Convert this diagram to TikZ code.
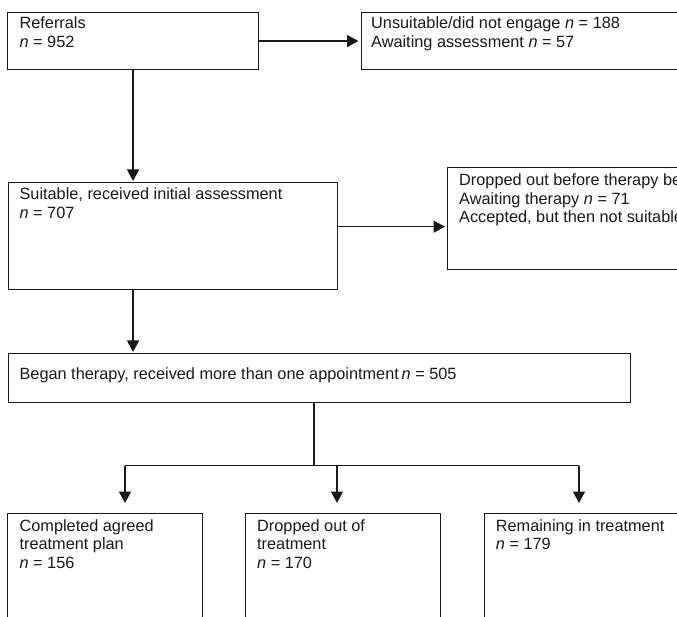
\documentclass[tikz,border=0pt]{standalone}
\usepackage{fontspec}
\setmainfont{Liberation Sans}
\usetikzlibrary{arrows.meta}
\begin{document}
\begin{tikzpicture}[x=1pt,y=-1pt,
  boxshape/.style={draw=black!90,line width=1.1pt,inner sep=0pt,anchor=north west},
  label/.style={anchor=north west,inner sep=0pt,align=left,text=black!90,font=\fontsize{16.3}{18.6}\selectfont},
  conn/.style={draw=black!90,line width=1.5pt},
  arr/.style={conn,-{Triangle[length=11.5pt,width=12pt]}}]
\useasboundingbox (0,0) rectangle (677,617);
\clip (0,0) rectangle (677,617);
% boxes
\node[boxshape,minimum width=251pt,minimum height=57pt] (b1) at (7,12) {};
\node[label] (t1) at (19.4,16.8) {Referrals\\\textit{n} = 952};
\node[boxshape,minimum width=340pt,minimum height=57pt] (b2) at (360.5,12) {};
\node[label] (t2) at (371,16.8) {Unsuitable/did not engage \textit{n} = 188\\Awaiting assessment \textit{n} = 57};
\node[boxshape,minimum width=329pt,minimum height=107pt] (b3) at (8,182) {};
\node[label] (t3) at (19.4,187.5) {Suitable, received initial assessment\\\textit{n} = 707};
\node[boxshape,minimum width=253pt,minimum height=102pt] (b4) at (447,167) {};
\node[label] (t4) at (459,173.5) {Dropped out before therapy began\\Awaiting therapy \textit{n} = 71\\Accepted, but then not suitable};
\node[boxshape,minimum width=622pt,minimum height=49pt] (b5) at (8,353) {};
\node[label] (t5) at (19.4,367.5) {Began therapy, received more than one appointment\,\textit{n} = 505};
\node[boxshape,minimum width=195pt,minimum height=130pt] (c1) at (7.3,513) {};
\node[label] (u1) at (19.4,519) {Completed agreed\\treatment plan\\\textit{n} = 156};
\node[boxshape,minimum width=195pt,minimum height=130pt] (c2) at (245,513) {};
\node[label] (u2) at (257,519) {Dropped out of\\treatment\\\textit{n} = 170};
\node[boxshape,minimum width=195pt,minimum height=130pt] (c3) at (483.6,513) {};
\node[label] (u3) at (495.7,519) {Remaining in treatment\\\textit{n} = 179};
% connectors
\draw[arr,shorten >=2pt] (b1.east) -- (b1.east -| b2.west);
\draw[arr,shorten >=1pt] (b1.south) -- (b1.south |- b3.north);
\coordinate (h3) at (337,226.7);
\draw[arr,shorten >=2pt] (h3) -- (h3 -| b4.west);
\draw[arr,shorten >=1pt] (b1.south |- b3.south) -- (b1.south |- b5.north);
\coordinate (j) at (314,465.5);
\coordinate (k1) at (125,465.5);
\coordinate (k2) at (337,465.5);
\coordinate (k3) at (579,465.5);
\draw[conn] (j |- b5.south) -- (j);
\draw[conn] (k1) -- (k3);
\draw[arr,shorten >=10pt] (k1) -- (k1 |- c1.north);
\draw[arr,shorten >=10pt] (k2) -- (k2 |- c2.north);
\draw[arr,shorten >=10pt] (k3) -- (k3 |- c3.north);
\end{tikzpicture}
\end{document}
